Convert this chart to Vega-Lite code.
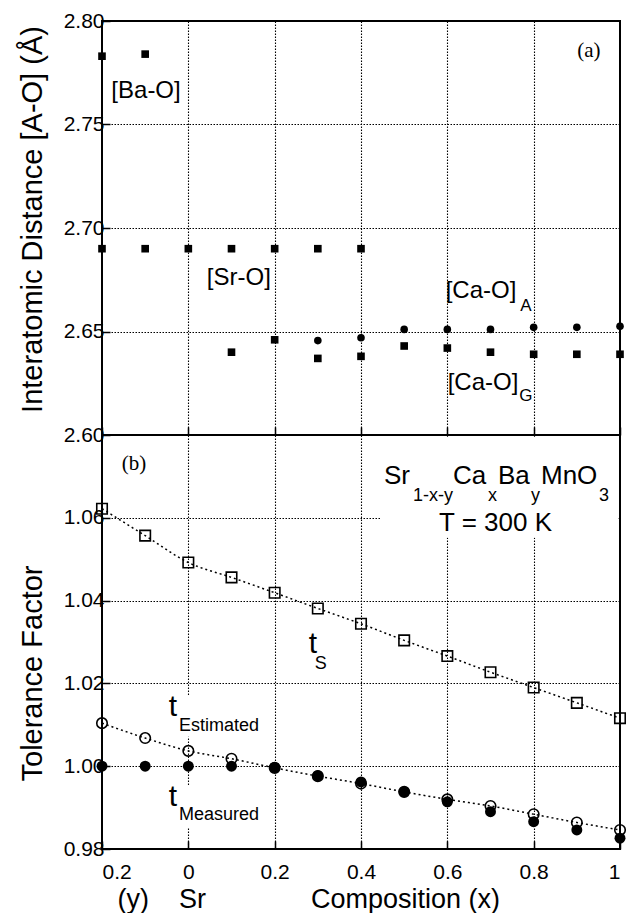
{
  "$schema": "https://vega.github.io/schema/vega-lite/v6.json",
  "background": "white",
  "padding": {"left": 17, "top": 9, "right": 0, "bottom": 0},
  "spacing": 0,
  "bounds": "flush",
  "config": {
    "font": "Liberation Sans",
    "view": {"stroke": "black", "strokeWidth": 2},
    "axis": {
      "domain": false,
      "grid": true,
      "gridColor": "black",
      "gridDash": [1.5, 1.5],
      "gridWidth": 1.1,
      "gridOpacity": 1,
      "tickColor": "black",
      "tickSize": -8,
      "tickWidth": 1.5,
      "labelColor": "black",
      "labelFont": "Liberation Sans",
      "labelFontSize": 21,
      "labelPadding": 6,
      "titleColor": "black",
      "titleFont": "Liberation Sans",
      "titleFontWeight": "normal",
      "titleFontSize": 29
    }
  },
  "datasets": {
    "distance": [
      {"x": -0.2, "d": 2.783, "bond": "Ba-O"},
      {"x": -0.1, "d": 2.784, "bond": "Ba-O"},
      {"x": -0.2, "d": 2.690, "bond": "Sr-O"},
      {"x": -0.1, "d": 2.690, "bond": "Sr-O"},
      {"x": 0.0, "d": 2.690, "bond": "Sr-O"},
      {"x": 0.1, "d": 2.690, "bond": "Sr-O"},
      {"x": 0.2, "d": 2.690, "bond": "Sr-O"},
      {"x": 0.3, "d": 2.690, "bond": "Sr-O"},
      {"x": 0.4, "d": 2.690, "bond": "Sr-O"},
      {"x": 0.1, "d": 2.640, "bond": "Ca-O (G)"},
      {"x": 0.2, "d": 2.646, "bond": "Ca-O (G)"},
      {"x": 0.3, "d": 2.637, "bond": "Ca-O (G)"},
      {"x": 0.4, "d": 2.638, "bond": "Ca-O (G)"},
      {"x": 0.5, "d": 2.643, "bond": "Ca-O (G)"},
      {"x": 0.6, "d": 2.642, "bond": "Ca-O (G)"},
      {"x": 0.7, "d": 2.640, "bond": "Ca-O (G)"},
      {"x": 0.8, "d": 2.639, "bond": "Ca-O (G)"},
      {"x": 0.9, "d": 2.639, "bond": "Ca-O (G)"},
      {"x": 1.0, "d": 2.639, "bond": "Ca-O (G)"},
      {"x": 0.3, "d": 2.6456, "bond": "Ca-O (A)"},
      {"x": 0.4, "d": 2.647, "bond": "Ca-O (A)"},
      {"x": 0.5, "d": 2.651, "bond": "Ca-O (A)"},
      {"x": 0.6, "d": 2.651, "bond": "Ca-O (A)"},
      {"x": 0.7, "d": 2.651, "bond": "Ca-O (A)"},
      {"x": 0.8, "d": 2.652, "bond": "Ca-O (A)"},
      {"x": 0.9, "d": 2.652, "bond": "Ca-O (A)"},
      {"x": 1.0, "d": 2.6525, "bond": "Ca-O (A)"}
    ],
    "bondLabels": [
      {"x": -0.098, "d": 2.7662, "text": "[Ba-O]"},
      {"x": 0.117, "d": 2.6758, "text": "[Sr-O]"},
      {"x": 0.678, "d": 2.6696, "text": "[Ca-O]"},
      {"x": 0.6826, "d": 2.6251, "text": "[Ca-O]"}
    ],
    "bondSubscripts": [
      {"x": 0.782, "d": 2.6623, "text": "A"},
      {"x": 0.782, "d": 2.6188, "text": "G"}
    ],
    "panelA": [{"x": 0.928, "d": 2.7855, "text": "(a)"}],
    "tolerance": [
      {"x": -0.2, "t": 1.0622, "series": "tS"},
      {"x": -0.1, "t": 1.0557, "series": "tS"},
      {"x": 0.0, "t": 1.0492, "series": "tS"},
      {"x": 0.1, "t": 1.0456, "series": "tS"},
      {"x": 0.2, "t": 1.0419, "series": "tS"},
      {"x": 0.3, "t": 1.0381, "series": "tS"},
      {"x": 0.4, "t": 1.0344, "series": "tS"},
      {"x": 0.5, "t": 1.0304, "series": "tS"},
      {"x": 0.6, "t": 1.0266, "series": "tS"},
      {"x": 0.7, "t": 1.0227, "series": "tS"},
      {"x": 0.8, "t": 1.0190, "series": "tS"},
      {"x": 0.9, "t": 1.0153, "series": "tS"},
      {"x": 1.0, "t": 1.0116, "series": "tS"},
      {"x": -0.2, "t": 1.0104, "series": "tEstimated"},
      {"x": -0.1, "t": 1.0068, "series": "tEstimated"},
      {"x": 0.0, "t": 1.0037, "series": "tEstimated"},
      {"x": 0.1, "t": 1.0018, "series": "tEstimated"},
      {"x": 0.2, "t": 0.9996, "series": "tEstimated"},
      {"x": 0.3, "t": 0.9976, "series": "tEstimated"},
      {"x": 0.4, "t": 0.9958, "series": "tEstimated"},
      {"x": 0.5, "t": 0.9938, "series": "tEstimated"},
      {"x": 0.6, "t": 0.9920, "series": "tEstimated"},
      {"x": 0.7, "t": 0.9904, "series": "tEstimated"},
      {"x": 0.8, "t": 0.9884, "series": "tEstimated"},
      {"x": 0.9, "t": 0.9864, "series": "tEstimated"},
      {"x": 1.0, "t": 0.9846, "series": "tEstimated"},
      {"x": -0.2, "t": 1.0000, "series": "tMeasured"},
      {"x": -0.1, "t": 1.0000, "series": "tMeasured"},
      {"x": 0.0, "t": 1.0000, "series": "tMeasured"},
      {"x": 0.1, "t": 1.0000, "series": "tMeasured"},
      {"x": 0.2, "t": 0.9997, "series": "tMeasured"},
      {"x": 0.3, "t": 0.9977, "series": "tMeasured"},
      {"x": 0.4, "t": 0.9962, "series": "tMeasured"},
      {"x": 0.5, "t": 0.9938, "series": "tMeasured"},
      {"x": 0.6, "t": 0.9914, "series": "tMeasured"},
      {"x": 0.7, "t": 0.9890, "series": "tMeasured"},
      {"x": 0.8, "t": 0.9866, "series": "tMeasured"},
      {"x": 0.9, "t": 0.9846, "series": "tMeasured"},
      {"x": 1.0, "t": 0.9826, "series": "tMeasured"}
    ],
    "backdrops": [
      {"x0": 0.446, "x1": 0.996, "t0": 1.0552, "t1": 1.0796},
      {"x0": -0.052, "x1": 0.173, "t0": 1.0071, "t1": 1.0171},
      {"x0": -0.052, "x1": 0.173, "t0": 0.9851, "t1": 0.9954}
    ],
    "formula": [
      {"x": 0.4533, "t": 1.0701, "text": "Sr"},
      {"x": 0.6131, "t": 1.0701, "text": "Ca"},
      {"x": 0.7174, "t": 1.0701, "text": "Ba"},
      {"x": 0.8170, "t": 1.0701, "text": "MnO"},
      {"x": 0.5807, "t": 1.0588, "text": "T = 300 K"}
    ],
    "formulaSubscripts": [
      {"x": 0.5205, "t": 1.0653, "text": "1-x-y"},
      {"x": 0.6942, "t": 1.0653, "text": "x"},
      {"x": 0.7938, "t": 1.0653, "text": "y"},
      {"x": 0.9513, "t": 1.0653, "text": "3"}
    ],
    "tLetters": [
      {"x": 0.2888, "t": 1.0294, "text": "t"},
      {"x": -0.0355, "t": 1.0142, "text": "t"},
      {"x": -0.0355, "t": 0.9925, "text": "t"}
    ],
    "tSubscripts": [
      {"x": 0.307, "t": 1.0246, "text": "S"},
      {"x": 0.071, "t": 1.0096, "text": "Estimated"},
      {"x": 0.071, "t": 0.9882, "text": "Measured"}
    ],
    "panelB": [{"x": -0.126, "t": 1.073, "text": "(b)"}]
  },
  "vconcat": [
    {
      "width": 518,
      "height": 414,
      "encoding": {
        "x": {
          "field": "x",
          "type": "quantitative",
          "scale": {"domain": [-0.2, 1.0], "nice": false, "zero": false},
          "axis": {
            "values": [-0.2, 0, 0.2, 0.4, 0.6, 0.8, 1],
            "labels": false,
            "title": null,
            "gridOpacity": {"condition": {"test": "datum.value < -0.1 || datum.value > 0.9", "value": 0}, "value": 1}
          }
        },
        "y": {
          "field": "d",
          "type": "quantitative",
          "scale": {"domain": [2.6, 2.8], "nice": false, "zero": false},
          "axis": {
            "values": [2.6, 2.65, 2.7, 2.75, 2.8],
            "format": ".2f",
            "title": "Interatomic Distance [A-O] (Å)",
            "titlePadding": 16,
            "titleY": 198,
            "gridOpacity": {"condition": {"test": "datum.value < 2.61 || datum.value > 2.79", "value": 0}, "value": 1}
          }
        }
      },
      "layer": [
        {
          "data": {"name": "distance"},
          "mark": {"type": "point", "filled": true, "size": 58, "opacity": 1, "color": "black"},
          "encoding": {
            "shape": {
              "field": "bond",
              "type": "nominal",
              "scale": {"domain": ["Ba-O", "Sr-O", "Ca-O (G)", "Ca-O (A)"], "range": ["square", "square", "square", "circle"]},
              "legend": null
            }
          }
        },
        {
          "data": {"name": "bondLabels"},
          "mark": {"type": "text", "fontSize": 24, "color": "black", "align": "center", "baseline": "middle"},
          "encoding": {"text": {"field": "text"}}
        },
        {
          "data": {"name": "bondSubscripts"},
          "mark": {"type": "text", "fontSize": 17, "color": "black", "align": "center", "baseline": "middle"},
          "encoding": {"text": {"field": "text"}}
        },
        {
          "data": {"name": "panelA"},
          "mark": {"type": "text", "font": "Liberation Serif", "fontSize": 21, "color": "black", "align": "center", "baseline": "middle"},
          "encoding": {"text": {"field": "text"}}
        }
      ]
    },
    {
      "width": 518,
      "height": 414,
      "encoding": {
        "x": {
          "field": "x",
          "type": "quantitative",
          "scale": {"domain": [-0.2, 1.0], "nice": false, "zero": false},
          "axis": {
            "values": [-0.2, 0, 0.2, 0.4, 0.6, 0.8, 1],
            "labelExpr": "datum.value < 0 ? format(-datum.value, '.1f') : (datum.value == 0 || datum.value == 1 ? format(datum.value, 'd') : format(datum.value, '.1f'))",
            "labelFontSize": 21,
            "labelPadding": 20,
            "title": "\u200b\u00a0\u00a0(y)\u00a0\u00a0\u00a0\u00a0Sr\u00a0\u00a0\u00a0\u00a0\u00a0\u00a0\u00a0\u00a0\u00a0\u00a0\u00a0\u00a0\u00a0\u00a0Composition (x)",
            "titleFontSize": 27,
            "titleAnchor": "start",
            "titlePadding": 4,
            "gridOpacity": {"condition": {"test": "datum.value < -0.1 || datum.value > 0.9", "value": 0}, "value": 1}
          }
        },
        "y": {
          "field": "t",
          "type": "quantitative",
          "scale": {"domain": [0.98, 1.08], "nice": false, "zero": false},
          "axis": {
            "values": [0.98, 1.0, 1.02, 1.04, 1.06],
            "format": ".2f",
            "title": "Tolerance Factor",
            "titlePadding": 16,
            "titleY": 238,
            "gridOpacity": {"condition": {"test": "datum.value < 0.99", "value": 0}, "value": 1}
          }
        }
      },
      "layer": [
        {
          "data": {"name": "backdrops"},
          "mark": {"type": "rect", "fill": "white", "stroke": null},
          "encoding": {
            "x": {"field": "x0", "type": "quantitative"},
            "x2": {"field": "x1"},
            "y": {"field": "t0", "type": "quantitative"},
            "y2": {"field": "t1"}
          }
        },
        {
          "data": {"name": "tolerance"},
          "transform": [{"filter": "datum.series != 'tMeasured'"}],
          "mark": {"type": "line", "color": "black", "strokeWidth": 1.5, "strokeDash": [2, 3], "interpolate": "monotone"},
          "encoding": {"detail": {"field": "series"}}
        },
        {
          "data": {"name": "tolerance"},
          "transform": [{"filter": "datum.series == 'tS'"}],
          "mark": {"type": "point", "shape": "square", "filled": false, "size": 110, "strokeWidth": 1.6, "color": "black", "opacity": 1}
        },
        {
          "data": {"name": "tolerance"},
          "transform": [{"filter": "datum.series == 'tEstimated'"}],
          "mark": {"type": "point", "shape": "circle", "filled": false, "size": 110, "strokeWidth": 1.6, "color": "black", "opacity": 1}
        },
        {
          "data": {"name": "tolerance"},
          "transform": [{"filter": "datum.series == 'tMeasured'"}],
          "mark": {"type": "point", "shape": "circle", "filled": true, "size": 120, "color": "black", "opacity": 1}
        },
        {
          "data": {"name": "formula"},
          "mark": {"type": "text", "fontSize": 26, "color": "black", "align": "left", "baseline": "middle"},
          "encoding": {"text": {"field": "text"}}
        },
        {
          "data": {"name": "formulaSubscripts"},
          "mark": {"type": "text", "fontSize": 18, "color": "black", "align": "left", "baseline": "middle"},
          "encoding": {"text": {"field": "text"}}
        },
        {
          "data": {"name": "tLetters"},
          "mark": {"type": "text", "fontSize": 30, "color": "black", "align": "center", "baseline": "middle"},
          "encoding": {"text": {"field": "text"}}
        },
        {
          "data": {"name": "tSubscripts"},
          "mark": {"type": "text", "fontSize": 18, "color": "black", "align": "center", "baseline": "middle"},
          "encoding": {"text": {"field": "text"}}
        },
        {
          "data": {"name": "panelB"},
          "mark": {"type": "text", "font": "Liberation Serif", "fontSize": 21, "color": "black", "align": "center", "baseline": "middle"},
          "encoding": {"text": {"field": "text"}}
        }
      ]
    }
  ]
}
